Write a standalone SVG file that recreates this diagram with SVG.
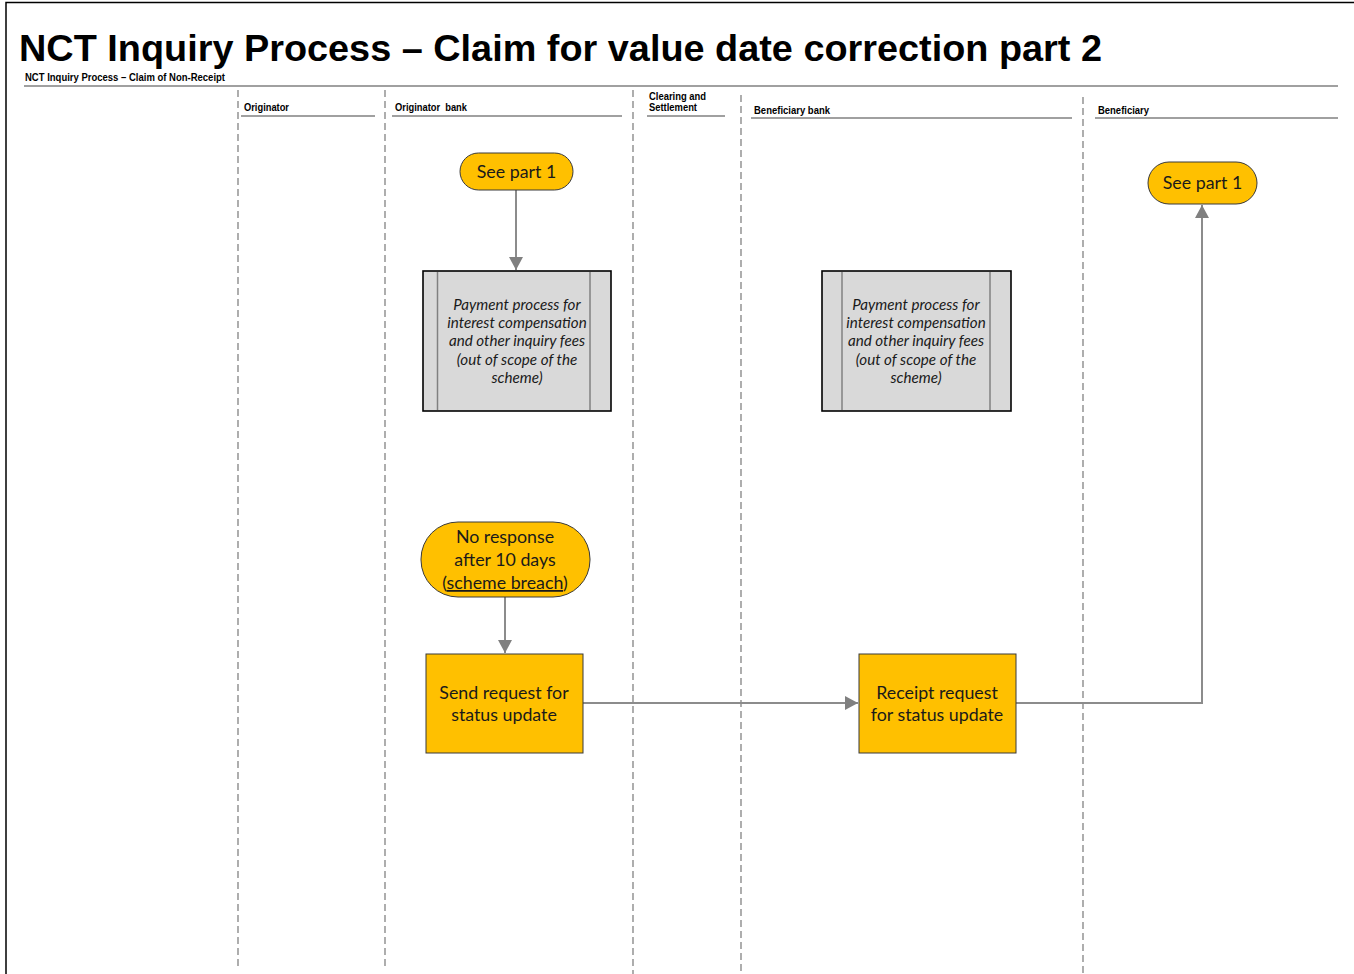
<svg xmlns="http://www.w3.org/2000/svg" width="1354" height="974" viewBox="0 0 1354 974">
<defs>
<style>
.lane{stroke:#8c8c8c;stroke-width:1.4;stroke-dasharray:7 4;fill:none}
.ul{stroke:#808080;stroke-width:1.6;fill:none}
.hdr{font-family:"Liberation Sans",Arial,sans-serif;font-size:10px;font-weight:bold;fill:#000}
.yel{fill:#FFC000;stroke:#3a3a3a;stroke-width:1}
.gray{fill:#D9D9D9;stroke:#000;stroke-width:1.6}
.inner{stroke:#808080;stroke-width:1.5}
.t{font-family:Lato,"Open Sans",sans-serif;font-size:17.8px;fill:#1a1a1a;text-anchor:middle}
.it{font-family:Lato,"Open Sans",sans-serif;font-size:15.2px;font-style:italic;fill:#1a1a1a;text-anchor:middle}
.conn{stroke:#8c8c8c;stroke-width:2;fill:none}
</style>
<marker id="arr" viewBox="0 0 13 14" refX="13" refY="7" markerWidth="13" markerHeight="14" markerUnits="userSpaceOnUse" orient="auto">
<path d="M0,0 L13,7 L0,14 Z" fill="#808080"/>
</marker>
</defs>
<rect x="0" y="0" width="1354" height="974" fill="#fff"/>
<path d="M6,974 V2.5 H1354" fill="none" stroke="#000" stroke-width="1.5"/>
<text x="19" y="61" font-family="Liberation Sans,Arial,sans-serif" font-size="37" font-weight="bold" textLength="1083" lengthAdjust="spacingAndGlyphs">NCT Inquiry Process – Claim for value date correction part 2</text>
<text x="25" y="81" class="hdr" font-size="9.5" textLength="200" lengthAdjust="spacingAndGlyphs">NCT Inquiry Process – Claim of Non-Receipt</text>
<line x1="24" y1="86" x2="1338" y2="86" stroke="#808080" stroke-width="1.6"/>
<g id="lanes">
<line class="lane" x1="238" y1="90" x2="238" y2="966"/>
<line class="lane" x1="385" y1="90" x2="385" y2="970"/>
<line class="lane" x1="633" y1="90" x2="633" y2="974"/>
<line class="lane" x1="741" y1="95" x2="741" y2="974"/>
<line class="lane" x1="1083" y1="97" x2="1083" y2="974"/>
<text class="hdr" x="244" y="111" textLength="45" lengthAdjust="spacingAndGlyphs">Originator</text>
<line class="ul" x1="241" y1="116" x2="375" y2="116"/>
<text class="hdr" x="395" y="111" xml:space="preserve" textLength="72" lengthAdjust="spacingAndGlyphs">Originator  bank</text>
<line class="ul" x1="392" y1="116" x2="622" y2="116"/>
<text class="hdr" x="649" y="100" textLength="57" lengthAdjust="spacingAndGlyphs">Clearing and</text>
<text class="hdr" x="649" y="111" textLength="48" lengthAdjust="spacingAndGlyphs">Settlement</text>
<line class="ul" x1="647" y1="116" x2="725" y2="116"/>
<text class="hdr" x="754" y="114" textLength="76" lengthAdjust="spacingAndGlyphs">Beneficiary bank</text>
<line class="ul" x1="751" y1="118" x2="1072" y2="118"/>
<text class="hdr" x="1098" y="114" textLength="51" lengthAdjust="spacingAndGlyphs">Beneficiary</text>
<line class="ul" x1="1095" y1="118" x2="1338" y2="118"/>
</g>
<g id="connectors">
<line class="conn" x1="516" y1="190" x2="516" y2="270" marker-end="url(#arr)"/>
<line class="conn" x1="505" y1="597" x2="505" y2="653" marker-end="url(#arr)"/>
<line class="conn" x1="583" y1="703" x2="858" y2="703" marker-end="url(#arr)"/>
<polyline class="conn" points="1016,703 1202,703 1202,205" marker-end="url(#arr)"/>
</g>
<g id="n_seepart1_a">
<rect class="yel" x="460" y="153" width="113" height="37" rx="18.5"/>
<text class="t" x="516.5" y="178">See part 1</text>
</g>
<g id="n_payment_a">
<rect class="gray" x="423" y="271" width="188" height="140"/>
<line class="inner" x1="437.5" y1="272" x2="437.5" y2="410"/>
<line class="inner" x1="590" y1="272" x2="590" y2="410"/>
<text class="it" x="517" y="310">Payment process for</text>
<text class="it" x="517" y="328">interest compensation</text>
<text class="it" x="517" y="346">and other inquiry fees</text>
<text class="it" x="517" y="365">(out of scope of the</text>
<text class="it" x="517" y="383">scheme)</text>
</g>
<g id="n_payment_b">
<rect class="gray" x="822" y="271" width="189" height="140"/>
<line class="inner" x1="842" y1="272" x2="842" y2="410"/>
<line class="inner" x1="990" y1="272" x2="990" y2="410"/>
<text class="it" x="916" y="310">Payment process for</text>
<text class="it" x="916" y="328">interest compensation</text>
<text class="it" x="916" y="346">and other inquiry fees</text>
<text class="it" x="916" y="365">(out of scope of the</text>
<text class="it" x="916" y="383">scheme)</text>
</g>
<g id="n_seepart1_b">
<rect class="yel" x="1148" y="162" width="109" height="42" rx="21"/>
<text class="t" x="1202.5" y="189">See part 1</text>
</g>
<g id="n_noresponse">
<rect class="yel" x="421" y="522" width="169" height="75" rx="37"/>
<text class="t" x="505" y="543">No response</text>
<text class="t" x="505" y="566">after 10 days</text>
<text class="t" x="505" y="589">(<tspan text-decoration="underline">scheme breach</tspan>)</text>
</g>
<g id="n_send">
<rect class="yel" x="426" y="654" width="157" height="99"/>
<text class="t" x="504" y="699">Send request for</text>
<text class="t" x="504" y="721">status update</text>
</g>
<g id="n_receipt">
<rect class="yel" x="859" y="654" width="157" height="99"/>
<text class="t" x="937" y="699">Receipt request</text>
<text class="t" x="937" y="721">for status update</text>
</g>
</svg>
